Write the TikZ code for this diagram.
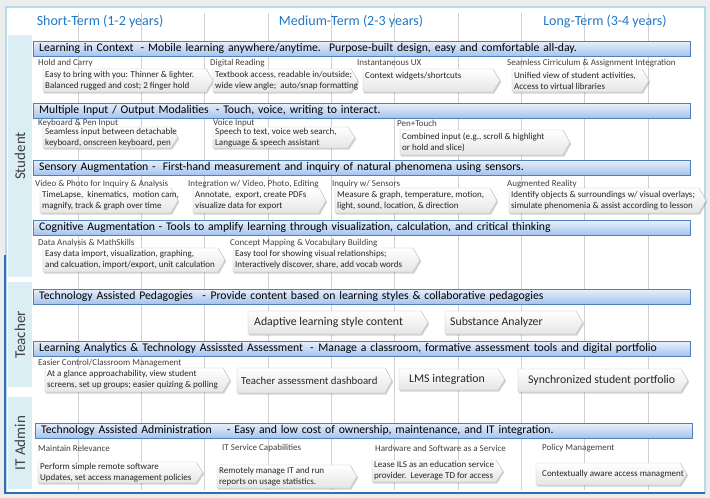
\documentclass[tikz,border=0pt]{standalone}
\usepackage{fontspec}
\setmainfont{Carlito}
\usetikzlibrary{shadows}
\definecolor{headblue}{HTML}{1F78C8}
\definecolor{barline}{HTML}{4F81BD}
\definecolor{bartop}{HTML}{E8EFFA}
\definecolor{barbot}{HTML}{A4C2EE}
\definecolor{sidebox}{HTML}{DAEEF3}
\definecolor{panelline}{HTML}{B4DCE8}
\definecolor{framedark}{HTML}{2F6DB5}
\definecolor{gridgray}{HTML}{D0D0D0}
\definecolor{chevline}{HTML}{BFBFBF}
\definecolor{txtgray}{HTML}{404040}
\begin{document}
\begin{tikzpicture}[x=1pt,y=-1pt,
	banner/.style={draw=barline, top color=bartop, bottom color=barbot, anchor=north west,
		minimum height=15pt, inner xsep=6pt, inner ysep=0pt, text width=645pt, align=left,
		font=\fontsize{11.7}{13}\selectfont},
	chevshape/.style={draw=chevline, top color=white, bottom color=black!10,
		drop shadow={shadow xshift=1.2pt, shadow yshift=-1.5pt, opacity=0.35}},
	chevtext/.style={anchor=west, inner sep=0pt, align=left, xshift=-1pt,
		font=\fontsize{9}{11}\selectfont, text=black!85},
	bigtext/.style={chevtext, xshift=4pt, font=\fontsize{11.8}{13}\selectfont},
	sublabel/.style={anchor=west, inner sep=0pt, font=\fontsize{9}{10}\selectfont, text=txtgray},
	term/.style={font=\fontsize{14}{16}\selectfont, text=headblue},
	sidelabel/.style={rotate=90, font=\fontsize{15}{17}\selectfont, text=txtgray}]
	\newcommand{\chevbox}[7][chevtext]{%
		\path[chevshape] (#3,#5) -- ({#4-7},#5) -- (#4,{(#5+#6)/2}) -- ({#4-7},#6) -- (#3,#6) -- cycle;
		\node[#1] (#2) at ({#3+3},{(#5+#6)/2}) {#7};
	}
	\useasboundingbox (0,0) rectangle (710,498);
	\fill[black!7] (0,0) rectangle (710,498);
	\fill[white] (6,7) rectangle (705,493);
	\draw[panelline, line width=2pt] (6,7) rectangle (705,493);
	\draw[framedark, line width=1.5pt] (5,255) -- (5,493) -- (705,493);
	% time grid
	\foreach \i in {0,...,9}
	{
		\draw[gridgray] ({78+63.33*\i},13) -- ({78+63.33*\i},490);
	}
	\node[term] (short) at (100,22) {Short-Term (1-2 years)};
	\node[term] (medium) at (351,22) {Medium-Term (2-3 years)};
	\node[term] (long) at (605,22) {Long-Term (3-4 years)};
	% roles
	\fill[sidebox] (8,35) rectangle (32,277);
	\fill[sidebox] (8,282) rectangle (32,387);
	\fill[sidebox] (8,397) rectangle (32,489);
	\node[sidelabel] (student) at (20,156) {Student};
	\node[sidelabel] (teacher) at (20,335) {Teacher};
	\node[sidelabel] (itadmin) at (20,443) {IT Admin};
	% student
	\node[banner] (context) at (33,41) {Learning in Context\hspace{0.6em}- Mobile learning anywhere/anytime.\hspace{0.7em}Purpose-built design, easy and comfortable all-day.};
	\node[sublabel] (holdlbl) at (38,63) {Hold and Carry};
	\node[sublabel] (readlbl) at (210,63) {Digital Reading};
	\node[sublabel] (uxlbl) at (357,63) {Instantaneous UX};
	\node[sublabel] (seamlbl) at (507,63) {Seamless Cirriculum \& Assignment Integration};
	\chevbox{hold}{43}{213}{69}{92}{Easy to bring with you: Thinner \& lighter.\\Balanced rugged and cost; 2 finger hold}
	\chevbox{read}{213}{358}{69}{92}{Textbook access, readable in/outside;\\wide view angle;\ \ auto/snap formatting}
	\chevbox{ux}{363}{500}{69}{92}{Context widgets/shortcuts\\\mbox{}}
	\chevbox{seam}{512}{649}{69}{92}{Unified view of student activities,\\Access to virtual libraries}

	\node[banner] (modal) at (33,103) {Multiple Input / Output Modalities\hspace{0.6em}- Touch, voice, writing to interact.};
	\node[sublabel] (penlbl) at (38,123) {Keyboard \& Pen Input};
	\node[sublabel] (voicelbl) at (213,123) {Voice Input};
	\node[sublabel] (touchlbl) at (397,123) {Pen+Touch};
	\chevbox{pen}{43}{178}{127}{148}{Seamless input between detachable\\keyboard, onscreen keyboard, pen}
	\chevbox{voice}{213}{355}{127}{148}{Speech to text, voice web search,\\Language \& speech assistant}
	\chevbox{touch}{400}{570}{130}{155}{Combined input (e.g., scroll \& highlight\\or hold and slice)}

	\node[banner] (sensory) at (33,160) {Sensory Augmentation -\hspace{0.6em}First-hand measurement and inquiry of natural phenomena using sensors.};
	\node[sublabel] (videolbl) at (35,184) {Video \& Photo for Inquiry \& Analysis};
	\node[sublabel] (editlbl) at (188,184) {Integration w/ Video, Photo, Editing};
	\node[sublabel] (sensorlbl) at (332,184) {Inquiry w/ Sensors};
	\node[sublabel] (arlbl) at (507,184) {Augmented Reality};
	\chevbox{video}{40}{178}{188}{213}{TimeLapse,\ \ kinematics,\ \ motion cam,\\magnify, track \& graph over time}
	\chevbox{edit}{193}{326}{188}{213}{Annotate,\ \ export, create PDFs\\visualize data for export}
	\chevbox{sensor}{335}{497}{188}{213}{Measure \& graph, temperature, motion,\\light, sound, location, \& direction}
	\chevbox{ar}{509}{706}{188}{213}{Identify objects \& surroundings w/ visual overlays;\\simulate phenomenia \& assist according to lesson}

	\node[banner] (cognitive) at (33,220) {Cognitive Augmentation\hspace{0.3em}- Tools to amplify learning through visualization, calculation, and critical thinking};
	\node[sublabel] (mathlbl) at (38,243) {Data Analysis \& MathSkills};
	\node[sublabel] (vocablbl) at (230,243) {Concept Mapping \& Vocabulary Building};
	\chevbox{math}{43}{225}{248}{272}{Easy data import, visualization, graphing,\\and calcuation, import/export, unit calculation}
	\chevbox{vocab}{233}{420}{248}{272}{Easy tool for showing visual relationships;\\Interactively discover, share, add vocab words}
	% teacher
	\node[banner] (pedagogy) at (33,289) {Technology Assisted Pedagogies\hspace{0.8em}-\hspace{0.4em}Provide content based on learning styles \& collaborative pedagogies};
	\chevbox[bigtext]{adaptive}{248}{428}{311}{334}{Adaptive learning style content}
	\chevbox[bigtext, xshift=-1pt]{analyzer}{445}{583}{311}{334}{Substance Analyzer}

	\node[banner] (analytics) at (33,341) {Learning Analytics \& Technology Assissted Assessment\hspace{0.6em}-\hspace{0.4em}Manage a classroom, formative assessment tools and digital portfolio};
	\node[sublabel] (classlbl) at (38,363) {Easier Control/Classroom Management};
	\chevbox{class}{45}{230}{368}{392}{At a glance approachability, view student\\screens, set up groups; easier quizing \& polling}
	\chevbox[bigtext, xshift=-2pt, font=\fontsize{10.8}{12}\selectfont]{dashboard}{237}{392}{368}{393}{Teacher assessment dashboard}
	\chevbox[bigtext, xshift=4pt]{lms}{399}{505}{369}{390}{LMS integration}
	\chevbox[bigtext, xshift=4pt]{portfolio}{518}{688}{369}{392}{Synchronized student portfolio}
	% it admin
	\node[banner] (admin) at (35,423) {Technology Assisted Administration\hspace{1.3em}- Easy and low cost of ownership, maintenance, and IT integration.};
	\node[sublabel] (relevlbl) at (38,448) {Maintain Relevance};
	\node[sublabel] (servlbl) at (222,448) {IT Service Capabilities};
	\node[sublabel] (haaslbl) at (375,448) {Hardware and Software as a Service};
	\node[sublabel] (policylbl) at (542,448) {Policy Management};
	\chevbox{relev}{38}{203}{462}{483}{Perform simple remote software\\Updates, set access management policies}
	\chevbox{serv}{217}{357}{465}{488}{Remotely manage IT and run\\reports on usage statistics.}
	\chevbox{haas}{372}{503}{460}{482}{Lease ILS as an education service\\provider.\ \ Leverage TD for access}
	\chevbox[bigtext, font=\fontsize{9}{11}\selectfont]{policy}{536}{687}{463}{485}{Contextually aware access managment}
\end{tikzpicture}
\end{document}
